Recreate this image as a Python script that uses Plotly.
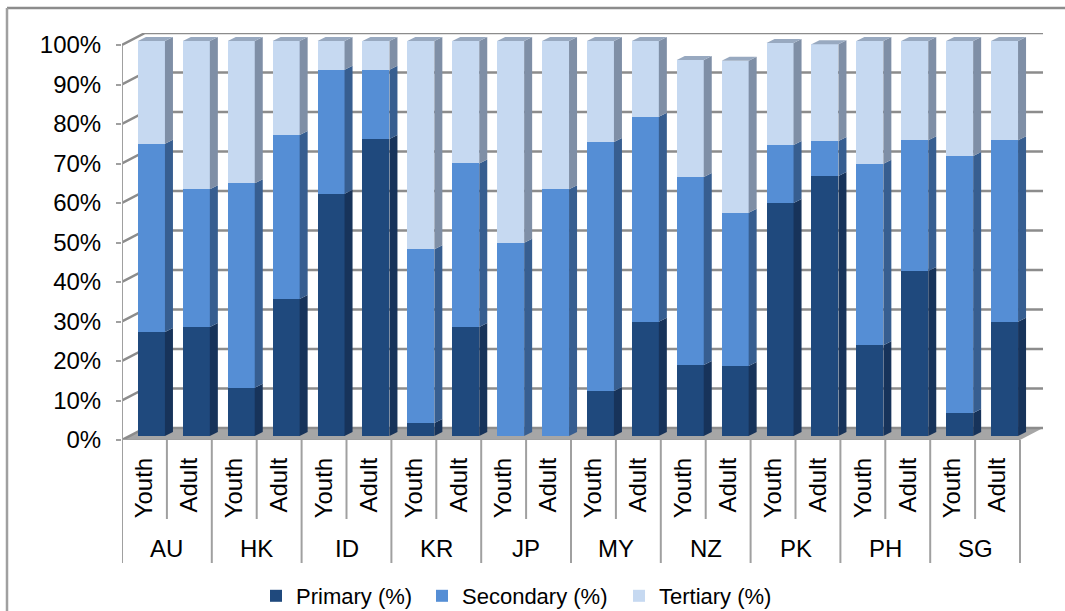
import plotly.graph_objects as go

countries = ["AU", "HK", "ID", "KR", "JP", "MY", "NZ", "PK", "PH", "SG"]
groups = ["Youth", "Adult"]
primary = [26.3, 27.6, 12.2, 34.7, 61.3, 75.2, 3.3, 27.6, 0, 0, 11.4, 28.9, 18.0, 17.7, 59.0, 65.8, 23.0, 41.8, 5.8, 28.9]
secondary = [47.7, 34.9, 51.8, 41.5, 31.4, 17.5, 44.0, 41.4, 48.9, 62.5, 63.0, 51.9, 47.6, 38.8, 14.7, 8.9, 45.9, 33.1, 65.1, 46.0]
tertiary = [26.0, 37.5, 36.0, 23.8, 7.3, 7.3, 52.7, 31.0, 51.1, 37.5, 25.6, 19.2, 29.6, 38.5, 25.8, 24.5, 31.1, 25.1, 29.1, 25.1]
series_names = ["Primary (%)", "Secondary (%)", "Tertiary (%)"]
y_ticks = list(range(0, 101, 10))

W, H = 1065, 611
COL = ["#1F497D", "#558ED5", "#C6D9F1"]
SIDE = ["#17335A", "#375E90", "#7F8FA6"]
TOP = "#98A9C0"
AXIS = "#A0A0A0"
FONT = "Liberation Sans, Arial, sans-serif"
PXX, PXY = 44.9, 3.95
LEGEND_IDS = ["legend", "legend2", "legend3"]
LEGEND_X = [256, 422, 619]


def xdom(a, b):
    return [a / W, b / W]


def ydom(bottom, top):
    return [1 - bottom / H, 1 - top / H]


n = len(primary)
labels = [groups[i % 2] for i in range(n)]
xs = list(range(n))
half = 13.5 / PXX
dx, dy = 8 / PXX, 4 / PXY
wx, wy = 23 / PXX, 12 / PXY
x_max = 19.5 + wx
y_max = 100 + wy

fig = go.Figure()

# ---- floor, back wall and side wall, on the front-plane axes
fig.add_trace(go.Scatter(
    x=[-0.5, 19.5, x_max, -0.5 + wx, -0.5], y=[0, 0, wy, wy, 0],
    mode="lines", fill="toself", fillcolor="#A6A6A6", line=dict(width=0),
    hoverinfo="skip", showlegend=False, cliponaxis=False))
gx, gy = [], []
for t in y_ticks:
    gx += [-0.5, -0.5 + wx, x_max, None]
    gy += [t, t + wy, t + wy, None]
fig.add_trace(go.Scatter(
    x=gx, y=gy, mode="lines", line=dict(color="#8C8C8C", width=2.5),
    hoverinfo="skip", showlegend=False, cliponaxis=False))
# front axis lines
fig.add_trace(go.Scatter(
    x=[-0.5, 19.5, None, -0.5, -0.5], y=[0, 0, None, 0, 100], mode="lines",
    line=dict(color=AXIS, width=2), hoverinfo="skip", showlegend=False, cliponaxis=False))

# ---- bars, on their own axes set slightly behind the front plane
bottoms = [0.0] * n
for name, vals, col, side, lid in zip(series_names, [primary, secondary, tertiary], COL, SIDE, LEGEND_IDS):
    fig.add_trace(go.Bar(
        x=xs, y=vals, name=name, marker=dict(color=col, line=dict(width=0)),
        width=2 * half, xaxis="x2", yaxis="y2", cliponaxis=False, legend=lid))
    sx, sy = [], []
    tops = []
    for i in range(n):
        b, t = bottoms[i], bottoms[i] + vals[i]
        tops.append(t)
        if vals[i] <= 0:
            continue
        r = xs[i] + half
        sx += [r, r + dx, r + dx, r, r, None]
        sy += [b, b + dy, t + dy, t, b, None]
    fig.add_trace(go.Scatter(
        x=sx, y=sy, mode="lines", fill="toself", fillcolor=side, line=dict(width=0),
        xaxis="x2", yaxis="y2", hoverinfo="skip", showlegend=False, cliponaxis=False))
    bottoms = tops

tx, ty = [], []
for i in range(n):
    l, r, t = xs[i] - half, xs[i] + half, bottoms[i]
    tx += [l, l + dx, r + dx, r, l, None]
    ty += [t, t + dy, t + dy, t, t, None]
fig.add_trace(go.Scatter(
    x=tx, y=ty, mode="lines", fill="toself", fillcolor=TOP, line=dict(width=0),
    xaxis="x2", yaxis="y2", hoverinfo="skip", showlegend=False, cliponaxis=False))

# ---- dividers below the axis
shapes = []
for i in range(n + 1):
    major = i % 2 == 0
    x = i - 0.5
    shapes.append(dict(type="line", xref="x", yref="paper", x0=x, x1=x,
                       y0=1 - 440 / H, y1=1 - (563 if major else 519) / H,
                       line=dict(color=AXIS, width=2)))
# ---- chart frame (top and left edges only)
shapes.append(dict(type="line", xref="paper", yref="paper", x0=7 / W, x1=1, y0=1 - 8 / H, y1=1 - 8 / H,
                   line=dict(color="#8C8C8C", width=2.5)))
shapes.append(dict(type="line", xref="paper", yref="paper", x0=7 / W, x1=7 / W, y0=0, y1=1 - 8 / H,
                   line=dict(color="#A0A0A0", width=2.5)))

annotations = [dict(text=c, xref="x", yref="paper", x=2 * j + 0.5, y=1 - 548 / H,
                    showarrow=False, yanchor="middle", xanchor="center",
                    font=dict(family=FONT, size=24, color="#000000"))
               for j, c in enumerate(countries)]

fig.update_layout(
    width=W, height=H, margin=dict(l=0, r=0, t=0, b=0, pad=0, autoexpand=False),
    paper_bgcolor="white", plot_bgcolor="rgba(0,0,0,0)",
    barmode="stack", shapes=shapes, annotations=annotations,
    font=dict(family=FONT, size=24, color="#000000"),
    xaxis=dict(domain=xdom(122, 1043), range=[-0.5, x_max], tickmode="array",
               tickvals=xs, ticktext=labels, tickangle=-90, ticks="",
               ticklabelstandoff=12, showgrid=False, zeroline=False,
               showline=False, anchor="y",
               tickfont=dict(family=FONT, size=24, color="#000000")),
    yaxis=dict(domain=ydom(440, 33), range=[0, y_max], tickmode="array",
               tickvals=y_ticks, ticktext=[f"{t}%" for t in y_ticks],
               ticks="outside", ticklen=5, tickcolor=AXIS, tickwidth=2,
               ticklabelstandoff=10, showgrid=False, zeroline=False, showline=False,
               anchor="x",
               tickfont=dict(family=FONT, size=24, color="#000000")),
    xaxis2=dict(domain=xdom(129, 1050), range=[-0.5, x_max], visible=False, anchor="y2"),
    yaxis2=dict(domain=ydom(436, 29), range=[0, y_max], visible=False, anchor="x2"),
)
for lid, lx in zip(LEGEND_IDS, LEGEND_X):
    fig.update_layout({lid: dict(orientation="h", x=lx / W, xanchor="left", y=1 - 575 / H, yanchor="top",
                                 font=dict(family=FONT, size=22, color="#000000"),
                                 itemclick=False, itemdoubleclick=False,
                                 bgcolor="rgba(0,0,0,0)")})

fig.write_html("out.html", config=dict(displayModeBar=False),
               post_script="document.body.style.margin='0';document.body.style.overflow='hidden';")
